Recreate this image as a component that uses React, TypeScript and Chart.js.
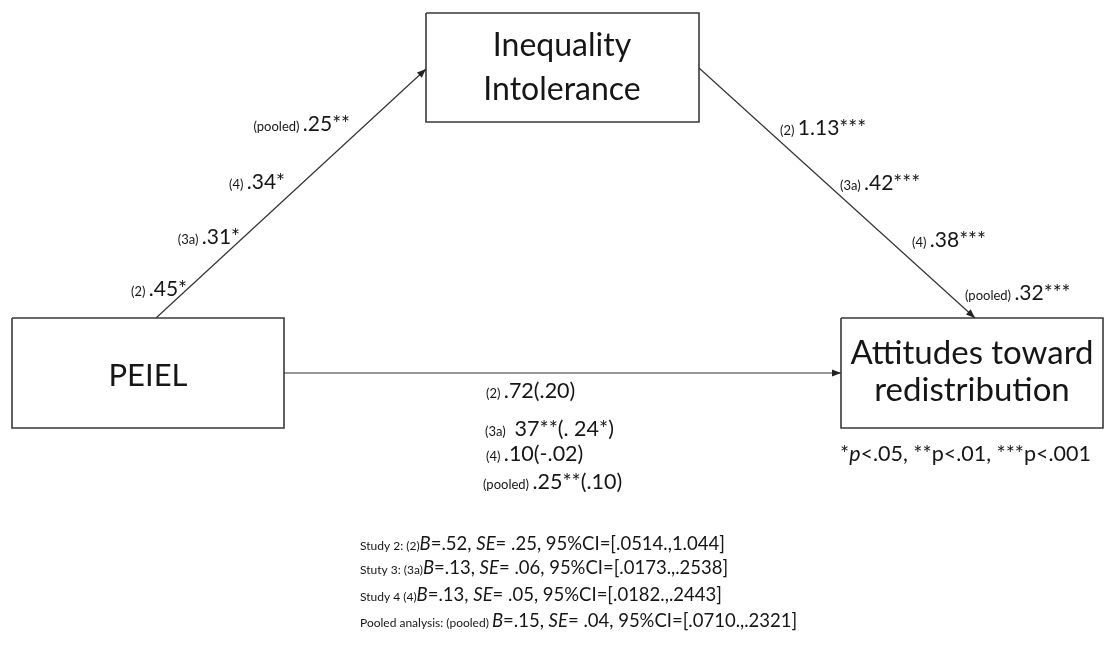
import { useEffect, useRef } from "react";
import { Chart, registerables } from "chart.js";
Chart.register(...registerables);

const W = 1107;
const H = 646;
const FONT = "Lato";

// ---- data ----
const nodeLines = [["PEIEL"], ["Inequality", "Intolerance"], ["Attitudes toward", "redistribution"]];

const aStudies = ["(pooled)", "(4)", "(3a)", "(2)"];
const aValues = [".25**", ".34*", ".31*", ".45*"];

const bStudies = ["(2)", "(3a)", "(4)", "(pooled)"];
const bValues = ["1.13***", ".42***", ".38***", ".32***"];

const cStudies = ["(2)", "(3a)", "(4)", "(pooled)"];
const cValues = [".72(.20)", " 37**(. 24*)", ".10(-.02)", ".25**(.10)"];

const indPrefix = ["Study 2: (2)", "Stuty 3: (3a)", "Study 4 (4)", "Pooled analysis: (pooled) "];
const indB = [".52", ".13", ".13", ".15"];
const indSE = [" .25", " .06", " .05", " .04"];
const indCI = ["[.0514.,1.044]", "[.0173.,.2538]", "[.0182.,.2443]", "[.0710.,.2321]"];

const sigStars = ["*", "**", "***"];
const sigLevels = ["<.05", "<.01", "<.001"];

// ---- layout (in scale units = pixels) ----
const boxes = [
  [12, 318, 284, 428],
  [426, 13, 699, 122],
  [841, 318, 1103, 428],
];
const nodeText = [
  { x: 148, ys: [386], size: 31 },
  { x: 562, ys: [56, 100], size: 32 },
  { x: 972, ys: [364, 401], size: 33 },
];
const arrows = [
  [156, 318, 426, 69],
  [699, 68, 975, 318],
  [284, 373, 841, 373],
];
const aPos = [[350, 131], [285, 189], [240, 244], [187, 296]];
const bPos = [[780, 135], [840, 190], [912, 247], [965, 300]];
const cPos = [[486, 398], [485, 436], [486, 461], [483, 489]];
const indPos = [[360, 550], [360, 574], [360, 601], [360, 627]];
const legendPos = [840, 461];

type Run = { t: string; s: number; i?: boolean };

const diagramPlugin = {
  id: "diagram",
  afterDatasetsDraw(chart: any) {
    const ctx: CanvasRenderingContext2D = chart.ctx;
    const xs = chart.scales.x;
    const ys = chart.scales.y;
    const px = (v: number) => xs.getPixelForValue(v);
    const py = (v: number) => ys.getPixelForValue(v);
    const TXT = "#161616";

    const font = (r: Run) => `${r.i ? "italic " : ""}${r.s}px ${FONT}`;
    const drawRuns = (runs: Run[], x: number, y: number, align: "left" | "right" | "center") => {
      ctx.save();
      ctx.fillStyle = TXT;
      ctx.textBaseline = "alphabetic";
      ctx.textAlign = "left";
      let total = 0;
      for (const r of runs) {
        ctx.font = font(r);
        total += ctx.measureText(r.t).width;
      }
      let cx = px(x);
      if (align === "right") cx -= total;
      if (align === "center") cx -= total / 2;
      for (const r of runs) {
        ctx.font = font(r);
        ctx.fillText(r.t, cx, py(y));
        cx += ctx.measureText(r.t).width;
      }
      ctx.restore();
    };

    // arrowheads
    ctx.save();
    ctx.fillStyle = "#222";
    for (const [x1, y1, x2, y2] of arrows) {
      const X1 = px(x1), Y1 = py(y1), X2 = px(x2), Y2 = py(y2);
      const ang = Math.atan2(Y2 - Y1, X2 - X1);
      const L = 9, Wd = 3.5;
      ctx.beginPath();
      ctx.moveTo(X2, Y2);
      ctx.lineTo(X2 - L * Math.cos(ang) + Wd * Math.sin(ang), Y2 - L * Math.sin(ang) - Wd * Math.cos(ang));
      ctx.lineTo(X2 - L * Math.cos(ang) - Wd * Math.sin(ang), Y2 - L * Math.sin(ang) + Wd * Math.cos(ang));
      ctx.closePath();
      ctx.fill();
    }
    ctx.restore();

    // node texts
    nodeLines.forEach((lines, i) => {
      const nt = nodeText[i];
      lines.forEach((ln, j) => drawRuns([{ t: ln, s: nt.size }], nt.x, nt.ys[j], "center"));
    });

    // a path
    aStudies.forEach((s, i) =>
      drawRuns([{ t: s + " ", s: 13 }, { t: aValues[i], s: 21 }], aPos[i][0], aPos[i][1], "right")
    );
    // b path
    bStudies.forEach((s, i) =>
      drawRuns([{ t: s + " ", s: 13 }, { t: bValues[i], s: 21 }], bPos[i][0], bPos[i][1], "left")
    );
    // c path
    cStudies.forEach((s, i) =>
      drawRuns([{ t: s + " ", s: 13 }, { t: cValues[i], s: 21.5 }], cPos[i][0], cPos[i][1], "left")
    );
    // indirect effects
    indPrefix.forEach((p, i) =>
      drawRuns(
        [
          { t: p, s: 12 },
          { t: "B", s: 18.5, i: true },
          { t: "=" + indB[i] + ", ", s: 18.5 },
          { t: "SE", s: 18.5, i: true },
          { t: "=" + indSE[i] + ", 95%CI=" + indCI[i], s: 18.5 },
        ],
        indPos[i][0],
        indPos[i][1],
        "left"
      )
    );
    // significance legend
    drawRuns(
      [
        { t: sigStars[0], s: 21.5 },
        { t: "p", s: 21.5, i: true },
        { t: sigLevels[0] + ", " + sigStars[1] + "p" + sigLevels[1] + ", " + sigStars[2] + "p" + sigLevels[2], s: 21.5 },
      ],
      legendPos[0],
      legendPos[1],
      "left"
    );
  },
};

export default function App() {
  const ref = useRef<HTMLCanvasElement | null>(null);
  useEffect(() => {
    if (!ref.current) return;
    const boxSets = boxes.map(([x1, y1, x2, y2]) => ({
      type: "line" as const,
      data: [
        { x: x1, y: y1 },
        { x: x2, y: y1 },
        { x: x2, y: y2 },
        { x: x1, y: y2 },
        { x: x1, y: y1 },
      ],
      borderColor: "#3a3a3a",
      borderWidth: 1.6,
      pointRadius: 0,
      fill: false,
      tension: 0,
    }));
    const arrowSets = arrows.map(([x1, y1, x2, y2]) => ({
      type: "line" as const,
      data: [
        { x: x1, y: y1 },
        { x: x2, y: y2 },
      ],
      borderColor: "#333",
      borderWidth: 1.2,
      pointRadius: 0,
      fill: false,
    }));
    const chart = new Chart(ref.current, {
      type: "scatter",
      data: { datasets: [...boxSets, ...arrowSets] as any },
      options: {
        animation: false,
        responsive: false,
        showLine: true,
        layout: { padding: 0 },
        plugins: { legend: { display: false }, tooltip: { enabled: false } },
        scales: {
          x: { type: "linear", min: 0, max: W, display: false },
          y: { type: "linear", min: 0, max: H, reverse: true, display: false },
        },
      } as any,
      plugins: [diagramPlugin],
    });
    return () => chart.destroy();
  }, []);
  return (
    <div style={{ position: "fixed", left: 0, top: 0, width: W, height: H, background: "#fff" }}>
      <canvas ref={ref} width={W} height={H} style={{ width: W, height: H }} />
    </div>
  );
}
